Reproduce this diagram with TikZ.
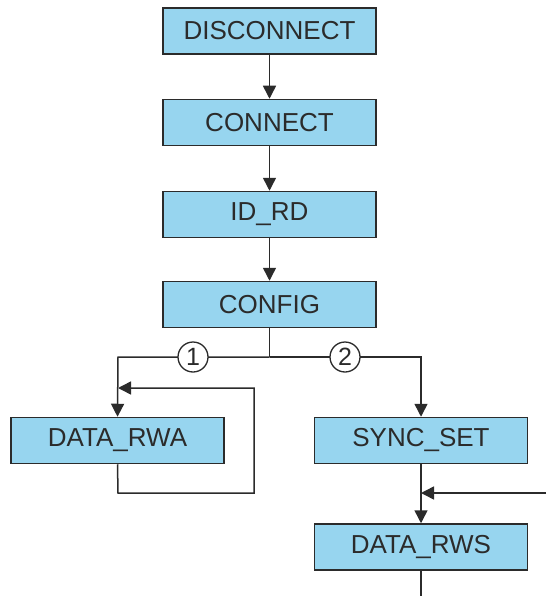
\documentclass[tikz,border=0pt]{standalone}
\usepackage{fontspec}
\setmainfont{Liberation Sans}
\usetikzlibrary{arrows.meta}
\definecolor{boxfill}{HTML}{97D5EF}
\definecolor{linec}{HTML}{2B2B2B}
\begin{document}
\begin{tikzpicture}[x=1pt,y=-1pt,
  state/.style={draw=linec,line width=1.5pt,fill=boxfill,minimum width=213pt,minimum height=46pt,inner sep=0pt,font=\fontsize{26}{30}\selectfont,text=linec},
  num/.style={draw=linec,line width=1.3pt,fill=white,circle,minimum size=30pt,inner sep=0pt,font=\fontsize{25}{28}\selectfont,text=linec},
  conn/.style={draw=linec,line width=1.5pt},
  arr/.style={conn,-{Triangle[length=13pt,width=13pt]}}]
\useasboundingbox (0,0) rectangle (546,596);
\node[state] (disc) at (269.5,31) {DISCONNECT};
\node[state] (conn) at (269.5,122.5) {CONNECT};
\node[state] (idrd) at (269.5,214.5) {ID\_RD};
\node[state] (conf) at (269.5,304.5) {CONFIG};
\node[state] (rwa) at (117.5,440.5) {DATA\_RWA};
\node[state] (sync) at (421,440.5) {SYNC\_SET};
\node[state] (rws) at (421,547) {DATA\_RWS};
\coordinate (split) at (269.5,357);
\coordinate (lft) at (118,357);
\coordinate (rgt) at (421,357);
\coordinate (fbA) at (118,493);
\coordinate (fbB) at (254,493);
\coordinate (fbC) at (254,388);
\coordinate (fbD) at (118,388);
\coordinate (inR) at (546,493);
\coordinate (inJ) at (421,493);
\coordinate (outB) at (421,596);
\draw[arr] (disc) -- (conn);
\draw[arr] (conn) -- (idrd);
\draw[arr] (idrd) -- (conf);
\draw[conn] (conf.south) -- (split);
\draw[arr] (split) -- (lft) -- (rwa.north);
\draw[arr] (split) -- (rgt) -- (sync.north);
\draw[arr] (rwa.south) -- (fbA) -- (fbB) -- (fbC) -- (fbD);
\draw[arr] (sync) -- (rws);
\draw[arr] (inR) -- (inJ);
\draw[conn] (rws.south) -- (outB);
\node[num] (n1) at (193,357) {1};
\node[num] (n2) at (345,357) {2};
\end{tikzpicture}
\end{document}
